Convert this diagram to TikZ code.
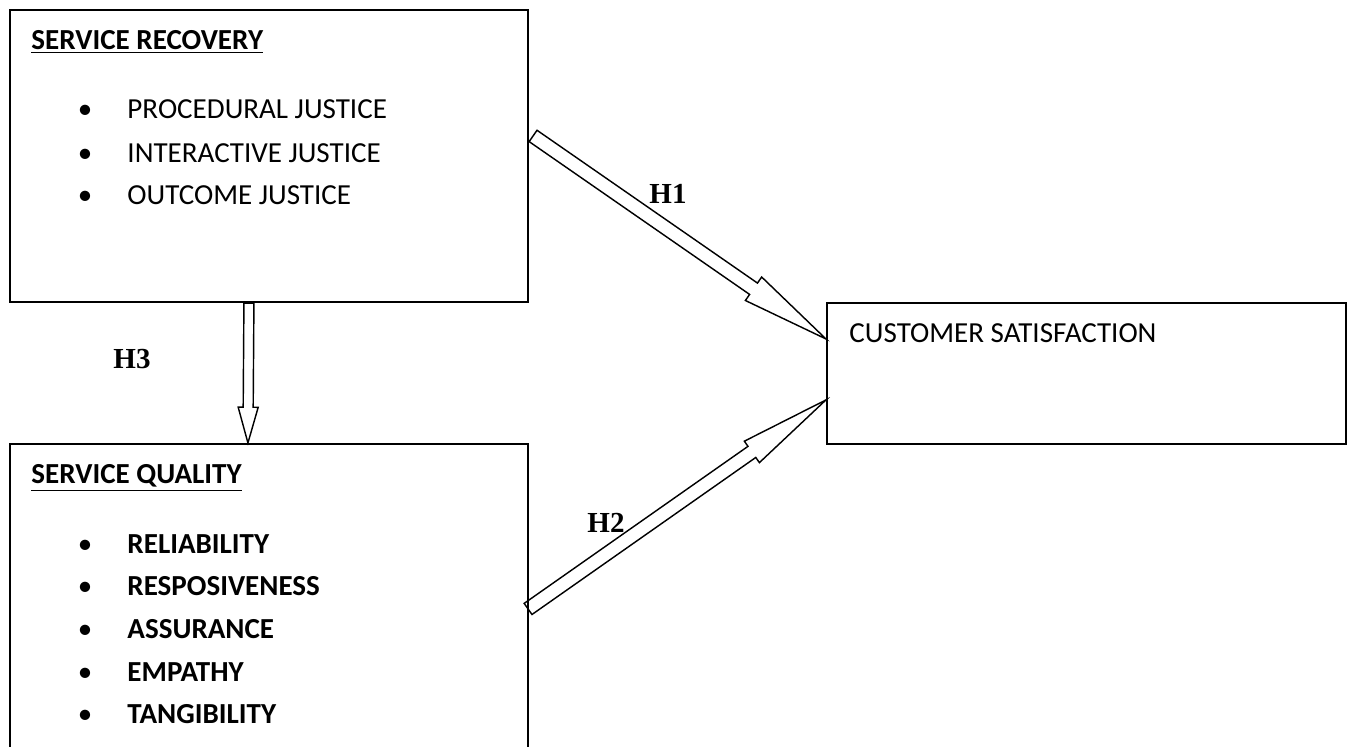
\documentclass[tikz,border=0pt]{standalone}
\usepackage{fontspec}
\setmainfont{Carlito}
\newfontfamily\hypfont{Liberation Serif}
\usetikzlibrary{calc, fit, backgrounds}

% block arrow: tail, tip, shaft half width, head half width, head length
\newcommand{\hyparrow}[5]{%
  \coordinate (hb) at ($(#2)!#5!(#1)$);
  \draw[hyparrow] ($(#1)!#3!90:(#2)$) -- ($(hb)!#3!90:(#2)$) -- ($(hb)!#4!90:(#2)$) -- (#2)
    -- ($(hb)!#4!-90:(#2)$) -- ($(hb)!#3!-90:(#2)$) -- ($(#1)!#3!-90:(#2)$) -- cycle;
}

\begin{document}
\begin{tikzpicture}[
    x=0.42pt, y=-0.42pt,
    font=\fontsize{12.2}{14}\selectfont,
    box/.style={
        draw=black,
        line width=0.9pt,
        inner sep=0pt
    },
    item/.style={
        anchor=base west,
        inner sep=0pt
    },
    dot/.style={
        anchor=base,
        inner sep=0pt
    },
    hlabel/.style={
        anchor=base,
        inner sep=0pt,
        font=\fontsize{12.2}{14}\selectfont\hypfont\bfseries
    },
    hyparrow/.style={
        draw=black,
        fill=white,
        line width=0.6pt,
        line join=miter
    }
]
\useasboundingbox (0,0) rectangle (1353,746);
\clip (0,0) rectangle (1353,746);

% ------------------------------------------------------------
% boxes
% ------------------------------------------------------------
\node[box, fit={(10,10) (528,302)}] (recovery) {};
\node[box, fit={(10,444) (528,780)}] (quality) {};
\node[box, fit={(827,303) (1346,444)}] (satisfaction) {};

% service recovery
\node[item, font=\fontsize{12.2}{14}\selectfont\bfseries] (recoveryhead) at (31,49) {\underline{SERVICE RECOVERY}};
\node[dot] (rdot1) at (85,118) {\textbullet};
\node[item] (procedural) at (127,118) {PROCEDURAL JUSTICE};
\node[dot] (rdot2) at (85,162) {\textbullet};
\node[item] (interactive) at (127,162) {INTERACTIVE JUSTICE};
\node[dot] (rdot3) at (85,204) {\textbullet};
\node[item] (outcome) at (127,204) {OUTCOME JUSTICE};

% service quality
\node[item, font=\fontsize{12.2}{14}\selectfont\bfseries] (qualityhead) at (31,483) {\underline{SERVICE QUALITY}};
\node[dot] (qdot1) at (85,553) {\textbullet};
\node[item, font=\fontsize{12.2}{14}\selectfont\bfseries] (reliability) at (127,553) {RELIABILITY};
\node[dot] (qdot2) at (85,595) {\textbullet};
\node[item, font=\fontsize{12.2}{14}\selectfont\bfseries] (responsive) at (127,595) {RESPOSIVENESS};
\node[dot] (qdot3) at (85,638) {\textbullet};
\node[item, font=\fontsize{12.2}{14}\selectfont\bfseries] (assurance) at (127,638) {ASSURANCE};
\node[dot] (qdot4) at (85,681) {\textbullet};
\node[item, font=\fontsize{12.2}{14}\selectfont\bfseries] (empathy) at (127,681) {EMPATHY};
\node[dot] (qdot5) at (85,723) {\textbullet};
\node[item, font=\fontsize{12.2}{14}\selectfont\bfseries] (tangibility) at (127,723) {TANGIBILITY};

% customer satisfaction
\node[item] (satisfactiontext) at (849,342) {CUSTOMER SATISFACTION};

% ------------------------------------------------------------
% hypotheses
% ------------------------------------------------------------
\coordinate (h1s) at ($(recovery.north east)+(4,127)$);
\coordinate (h1t) at ($(satisfaction.north west)+(0,37)$);
\coordinate (h2s) at ($(quality.north east)+(-1,166)$);
\coordinate (h2t) at ($(satisfaction.north west)+(0,98)$);
\coordinate (h3s) at ($(recovery.south west)+(240,0)$);
\coordinate (h3t) at ($(quality.north west)+(239,0)$);

\begin{scope}[on background layer]
    \hyparrow{h1s}{h1t}{2.9pt}{6pt}{37pt}
    \hyparrow{h2s}{h2t}{2.85pt}{5.5pt}{38pt}
    \hyparrow{h3s}{h3t}{2.1pt}{4.2pt}{15pt}
\end{scope}

\node[hlabel] (h1) at (668,203) {H1};
\node[hlabel] (h2) at (606,532) {H2};
\node[hlabel] (h3) at (132,368) {H3};

\end{tikzpicture}
\end{document}
